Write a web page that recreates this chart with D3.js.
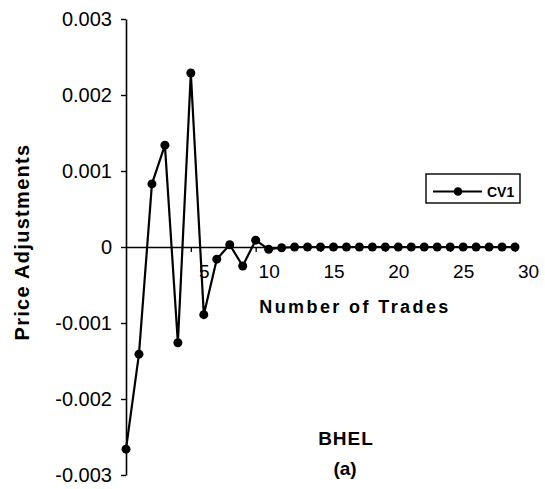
<!DOCTYPE html>
<html>
<head>
<meta charset="utf-8">
<script src="https://cdn.jsdelivr.net/npm/d3@7/dist/d3.min.js"></script>
<style>
  html, body { margin: 0; padding: 0; background: #fff; }
  svg { display: block; font-family: "Liberation Sans", Arial, sans-serif; }
</style>
</head>
<body>
<svg id="chart" width="545" height="489"></svg>
<script>
// Price adjustment after each trade (impulse response), BHEL
const trades = d3.range(0, 31);
const cv1 = [
  -0.00266, -0.00141, 0.00083, 0.00134, -0.00126, 0.00229, -0.00089, -0.00016,
  0.00003, -0.00025, 0.00009, -0.00003, -0.00001, 0, 0, 0, 0, 0, 0, 0,
  0, 0, 0, 0, 0, 0, 0, 0, 0, 0, 0
];
const yTicks = [0.003, 0.002, 0.001, 0, -0.001, -0.002, -0.003];
const yTickLabels = ["0.003", "0.002", "0.001", "0", "-0.001", "-0.002", "-0.003"];
const xTicks = [5, 10, 15, 20, 25, 30];
const seriesName = "CV1";

const svg = d3.select("#chart");

const x = d3.scaleLinear().domain([0, 30]).range([126, 515]);
const y = d3.scaleLinear().domain([-0.003, 0.003]).range([475, 19]);

// Y axis
const yAxis = d3.axisLeft(y)
  .tickValues(yTicks)
  .tickFormat((d, i) => yTickLabels[i])
  .tickSize(5)
  .tickSizeOuter(0)
  .tickPadding(9);
const gy = svg.append("g").attr("transform", `translate(${x(0)},0)`).call(yAxis);
gy.select(".domain").attr("stroke", "#000").attr("stroke-width", 1.6);
gy.selectAll(".tick line").attr("stroke", "#000").attr("stroke-width", 1.4);
gy.selectAll(".tick text")
  .attr("fill", "#000")
  .style("font-size", "20px");

// X axis through zero
const xAxis = d3.axisBottom(x)
  .tickValues(xTicks)
  .tickSize(5)
  .tickSizeOuter(0)
  .tickPadding(13);
const gx = svg.append("g").attr("transform", `translate(0,${y(0)})`).call(xAxis);
gx.select(".domain").attr("stroke", "#000").attr("stroke-width", 1.3);
gx.selectAll(".tick line").attr("stroke", "#000").attr("stroke-width", 1.3);
gx.selectAll(".tick text")
  .attr("fill", "#000")
  .attr("dx", 13)
  .style("font-size", "19px");

// Series line and markers
const pts = trades.map((t, i) => ({ t, v: cv1[i] }));
const line = d3.line().x(d => x(d.t)).y(d => y(d.v));
svg.append("path")
  .datum(pts)
  .attr("d", line)
  .attr("fill", "none")
  .attr("stroke", "#000")
  .attr("stroke-width", 2.2)
  .attr("stroke-linejoin", "round");
svg.append("g").selectAll("circle")
  .data(pts)
  .join("circle")
  .attr("cx", d => x(d.t))
  .attr("cy", d => y(d.v))
  .attr("r", 4.5)
  .attr("fill", "#000");

// Axis titles
svg.append("text")
  .attr("transform", "translate(29,242) rotate(-90)")
  .attr("text-anchor", "middle")
  .style("font-size", "20px")
  .style("font-weight", "bold")
  .style("letter-spacing", "1.3px")
  .text("Price Adjustments");

svg.append("text")
  .attr("x", 355)
  .attr("y", 313)
  .attr("text-anchor", "middle")
  .style("font-size", "18px")
  .style("font-weight", "bold")
  .style("letter-spacing", "2.4px")
  .text("Number of Trades");

svg.append("text")
  .attr("x", 346)
  .attr("y", 445)
  .attr("text-anchor", "middle")
  .style("font-size", "19px")
  .style("font-weight", "bold")
  .style("letter-spacing", "1px")
  .text("BHEL");

svg.append("text")
  .attr("x", 345)
  .attr("y", 475)
  .attr("text-anchor", "middle")
  .style("font-size", "19px")
  .style("font-weight", "bold")
  .text("(a)");

// Legend
const lg = svg.append("g");
lg.append("rect")
  .attr("x", 426).attr("y", 174)
  .attr("width", 94).attr("height", 29)
  .attr("fill", "#fff")
  .attr("stroke", "#000")
  .attr("stroke-width", 1.4);
lg.append("line")
  .attr("x1", 433).attr("x2", 482)
  .attr("y1", 191.5).attr("y2", 191.5)
  .attr("stroke", "#000")
  .attr("stroke-width", 2);
lg.append("circle")
  .attr("cx", 458).attr("cy", 191.5)
  .attr("r", 4.3)
  .attr("fill", "#000");
lg.append("text")
  .attr("x", 487).attr("y", 197)
  .style("font-size", "14px")
  .style("font-weight", "bold")
  .text(seriesName);
</script>
</body>
</html>
